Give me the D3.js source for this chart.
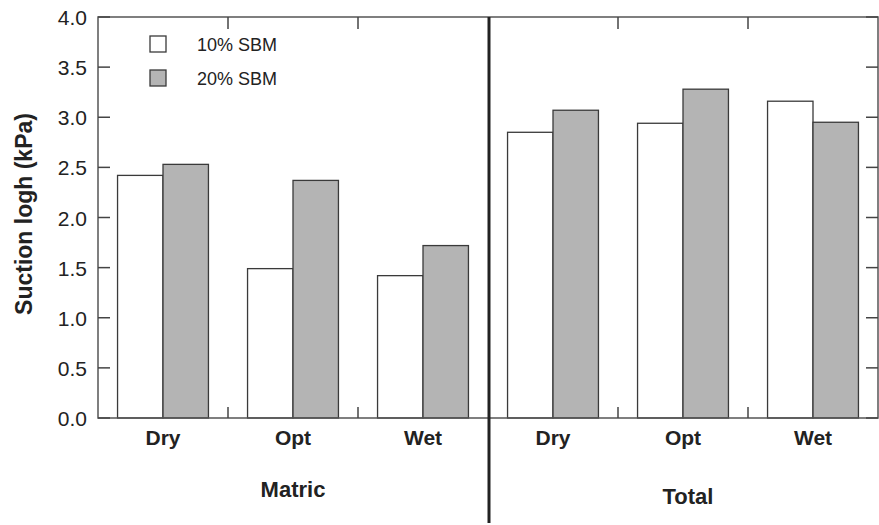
<!DOCTYPE html>
<html><head><meta charset="utf-8">
<script src="https://cdn.jsdelivr.net/npm/d3@7"></script>
<style>body{margin:0;background:#fff}svg{display:block}text{font-family:"Liberation Sans",Arial,sans-serif;fill:#222}</style>
</head><body>
<script>
const groups = ["Matric", "Total"];
const conditions = ["Dry", "Opt", "Wet"];
const seriesNames = ["10% SBM", "20% SBM"];
const sbm10 = [2.42, 1.49, 1.42, 2.85, 2.94, 3.16];
const sbm20 = [2.53, 2.37, 1.72, 3.07, 3.28, 2.95];
const yTicks = [0, 0.5, 1.0, 1.5, 2.0, 2.5, 3.0, 3.5, 4.0];

const W = 879, H = 525;
const m = {l: 98, r: 1, t: 17, b: 107};
const svg = d3.select("body").append("svg").attr("width", W).attr("height", H);

const keys = [];
groups.forEach(g => conditions.forEach(c => keys.push(g + "|" + c)));
const x = d3.scaleBand().domain(keys).range([m.l, W - m.r]).padding(0);
const xs = d3.scaleBand().domain(seriesNames).range([0, x.bandwidth()]).paddingInner(0).paddingOuter(0.43);
const y = d3.scaleLinear().domain([0, 4]).range([H - m.b, m.t]);
const colors = ["#ffffff", "#b4b4b4"];
const vals = [sbm10, sbm20];

// bars
keys.forEach((k, i) => {
  seriesNames.forEach((s, j) => {
    svg.append("rect")
      .attr("x", x(k) + xs(s)).attr("width", xs.bandwidth())
      .attr("y", y(vals[j][i])).attr("height", y(0) - y(vals[j][i]))
      .attr("fill", colors[j]).attr("stroke", "#3a3a3a").attr("stroke-width", 1.3);
  });
});

// frame
const x0 = m.l, x1 = W - m.r, yT = m.t, yB = H - m.b;
svg.append("rect").attr("x", x0).attr("y", yT).attr("width", x1 - x0).attr("height", yB - yT)
  .attr("fill", "none").attr("stroke", "#555").attr("stroke-width", 1.5);

// left axis
const yAxis = d3.axisLeft(y).tickValues(yTicks).tickFormat(d3.format(".1f")).tickSize(0).tickPadding(11);
const ga = svg.append("g").attr("transform", `translate(${x0},0)`).call(yAxis);
ga.select(".domain").remove();
ga.selectAll("text").style("font-size", "21px").attr("fill", "#222").attr("dy", "0.36em");
// inward ticks left and right
yTicks.forEach(t => {
  svg.append("line").attr("x1", x0).attr("x2", x0 + 12).attr("y1", y(t)).attr("y2", y(t)).attr("stroke", "#444").attr("stroke-width", 1.5);
  svg.append("line").attr("x1", x1 - 12).attr("x2", x1).attr("y1", y(t)).attr("y2", y(t)).attr("stroke", "#444").attr("stroke-width", 1.5);
});
// x ticks at band boundaries (inward, top and bottom)
keys.forEach((k, i) => {
  if (i === 0 || i === 3) return;
  const xp = x(k);
  svg.append("line").attr("x1", xp).attr("x2", xp).attr("y1", yT).attr("y2", yT + 12).attr("stroke", "#444").attr("stroke-width", 1.5);
  svg.append("line").attr("x1", xp).attr("x2", xp).attr("y1", yB).attr("y2", yB - 11).attr("stroke", "#444").attr("stroke-width", 1.5);
});

// category labels
keys.forEach(k => {
  svg.append("text").attr("x", x(k) + x.bandwidth() / 2).attr("y", 445)
    .attr("text-anchor", "middle").style("font-size", "21px").style("font-weight", "bold")
    .text(k.split("|")[1]);
});
// group labels
const gx = [x("Matric|Opt") + x.bandwidth() / 2, x("Total|Opt") + x.bandwidth() / 2 + 5];
const gy = [497, 504];
groups.forEach((g, i) => {
  svg.append("text").attr("x", gx[i]).attr("y", gy[i]).attr("text-anchor", "middle")
    .style("font-size", "22px").style("font-weight", "bold").text(g);
});

// divider
const xd = x("Total|Dry") + 1;
svg.append("line").attr("x1", xd).attr("x2", xd).attr("y1", yT).attr("y2", 523)
  .attr("stroke", "#222").attr("stroke-width", 3);

// y title
svg.append("text").attr("transform", `translate(32,214) rotate(-90)`).attr("text-anchor", "middle")
  .style("font-size", "23px").style("font-weight", "bold").text("Suction logh (kPa)");

// legend
const ly = [36, 70];
seriesNames.forEach((s, j) => {
  svg.append("rect").attr("x", 150).attr("y", ly[j]).attr("width", 16).attr("height", 16)
    .attr("fill", colors[j]).attr("stroke", "#3a3a3a").attr("stroke-width", 1.3);
  svg.append("text").attr("x", 197).attr("y", ly[j] + 15).style("font-size", "18px").text(s);
});
</script>
</body></html>
